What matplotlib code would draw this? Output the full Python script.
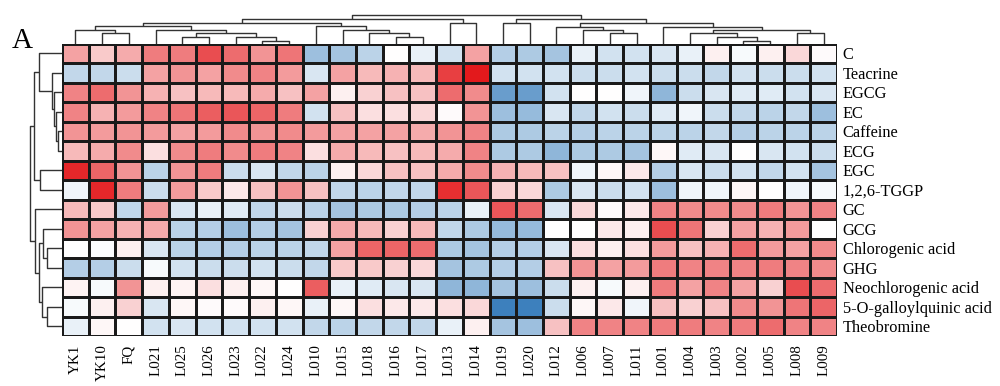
import numpy as np
import matplotlib
matplotlib.use('Agg')
import matplotlib.pyplot as plt
from matplotlib.colors import LinearSegmentedColormap

# Data
samples = ['YK1', 'YK10', 'FQ', 'L021', 'L025', 'L026', 'L023', 'L022', 'L024',
           'L010', 'L015', 'L018', 'L016', 'L017', 'L013', 'L014', 'L019', 'L020',
           'L012', 'L006', 'L007', 'L011', 'L001', 'L004', 'L003', 'L002', 'L005',
           'L008', 'L009']
compounds = ['C', 'Teacrine', 'EGCG', 'EC', 'Caffeine', 'ECG', 'EGC', '1,2,6-TGGP',
             'GC', 'GCG', 'Chlorogenic acid', 'GHG', 'Neochlorogenic acid',
             '5-O-galloylquinic acid', 'Theobromine']

row_C = [1.2, 0.7, 1.1, 1.7, 1.7, 2.3, 1.9, 1.4, 1.8, -1.3, -1.2, -0.9, 0.0, -0.3, -0.6, 1.2, -1.0, -1.1, -1.2, -0.3, -0.6, -0.6, -0.5, -0.3, 0.2, -0.1, 0.2, 0.5, 0.05]
row_teacrine = [-0.8, -0.8, -0.7, 1.2, 1.4, 1.2, 1.5, 1.6, 1.3, -0.5, 1.2, 0.9, 1.0, 0.9, 2.5, 3.0, -0.6, -0.6, -0.6, -0.7, -0.7, -0.6, -0.7, -0.7, -0.8, -0.6, -0.7, -0.7, -0.6]
row_egcg = [1.6, 1.9, 1.4, 1.0, 0.8, 0.9, 0.9, 1.1, 0.8, 1.2, 0.2, 0.6, 0.8, 0.8, 1.9, 1.5, -2.0, -2.0, -0.6, 0.0, 0.0, -0.2, -1.5, -0.7, -0.5, -0.4, -0.4, -0.6, -0.5]
row_ec = [1.6, 1.0, 1.3, 1.6, 1.8, 2.1, 2.2, 2.0, 1.7, -0.6, 0.8, 0.4, 0.4, 0.5, 0.05, 1.4, -1.3, -1.4, -0.5, -0.8, -0.6, -0.7, -0.4, -0.2, -0.7, -0.8, -0.9, -0.8, -1.3]
row_caffeine = [1.4, 1.3, 1.4, 1.3, 1.2, 1.3, 1.5, 1.4, 1.5, 1.3, 1.2, 1.2, 1.2, 1.1, 1.4, 1.6, -1.1, -1.1, -0.9, -1.0, -0.9, -0.9, -0.9, -0.9, -0.8, -1.0, -0.9, -0.9, -0.9]
row_ecg = [0.9, 1.1, 1.5, 0.4, 1.5, 1.7, 1.5, 1.7, 1.6, 0.4, 1.1, 0.9, 0.8, 0.9, 1.1, 1.6, -1.1, -1.1, -1.5, -1.1, -1.1, -1.2, 0.1, -0.4, -0.5, 0.0, -0.5, -0.6, -0.7]
row_egc = [2.8, 2.0, 1.4, -0.9, 1.4, 1.7, -0.7, -0.5, -0.8, -0.9, 0.2, 0.5, 0.8, 0.8, 1.1, 1.5, 1.0, 0.9, 0.8, -0.2, 0.1, 0.3, -1.0, -0.5, -0.7, -0.6, -0.8, -0.6, -1.2]
row_tggp = [-0.2, 2.8, 1.7, -0.7, 1.3, 0.7, 0.3, 0.8, 1.4, 0.8, -0.8, -0.9, -0.8, -0.8, 2.7, 2.2, 0.6, 0.5, -1.1, -0.5, -0.7, -0.6, -1.3, -0.2, -0.2, 0.1, 0.0, -0.2, -0.1]
row_gc = [0.9, 0.7, -0.8, 1.3, -0.5, -0.3, -0.4, -0.8, -0.7, -0.9, -1.2, -1.1, -1.1, -1.0, -0.9, -0.3, 2.2, 1.9, -0.5, 0.5, 0.05, 0.3, 1.6, 1.5, 1.5, 1.5, 1.7, 1.4, 1.6]
row_gcg = [1.4, 1.2, 1.0, 1.1, -0.9, -1.0, -1.3, -1.0, -1.2, 0.6, 1.1, 0.9, 0.6, 0.9, -0.8, -1.1, -1.4, -1.4, 0.0, 0.0, 0.3, 0.2, 2.3, 1.8, 0.6, 1.2, 1.0, 1.3, 0.0]
row_chlor = [0.0, -0.05, 0.2, -0.5, -0.9, -1.0, -1.0, -0.9, -0.9, -0.8, 1.2, 2.0, 2.0, 1.9, -1.1, -1.2, -1.0, -1.0, -0.5, 0.4, 0.2, 0.4, 1.3, 0.8, 1.0, 1.9, 1.3, 1.2, 1.5]
row_ghg = [-1.0, -1.0, -0.7, -0.1, -0.6, -0.7, -0.7, -0.6, -0.7, -0.8, 0.7, 0.7, 0.6, 0.5, -1.2, -1.1, -1.0, -1.0, 0.8, 1.4, 1.2, 1.3, 1.7, 1.6, 1.6, 1.6, 1.7, 1.6, 1.5]
row_neo = [0.15, -0.1, 1.4, 0.2, 0.15, 0.4, 0.2, 0.1, 0.0, 2.1, -0.3, -0.4, -0.5, -0.5, -1.5, -1.5, -1.2, -1.3, -0.7, 0.2, -0.1, 0.2, 1.7, 1.2, 1.6, 1.2, 0.6, 2.3, 1.9]
row_5o = [-0.1, 0.2, 0.6, -0.5, 0.1, 0.05, 0.05, 0.2, 0.1, -0.3, 0.1, 0.4, 0.3, 0.3, 0.4, 0.5, -2.6, -2.6, -0.7, 0.1, 0.3, -0.2, 0.8, 0.6, 0.8, 1.5, 1.4, 1.8, 2.0]
row_theo = [-0.3, 0.1, 0.0, -0.6, -0.5, -0.6, -0.6, -0.6, -0.6, -0.8, -0.9, -0.8, -0.8, -0.8, -0.3, 0.2, -1.2, -1.3, 0.8, 1.6, 1.6, 1.6, 1.7, 1.7, 1.6, 1.7, 1.9, 1.6, 1.6]

# Linkage-style merges (left node, right node, height); leaves are in display order
col_merges = [(7, 8, 2.8), (4, 5, 6.2), (6, 29, 6.2), (30, 31, 10), (3, 32, 13.5),
              (1, 2, 10), (0, 34, 13.5), (35, 33, 17.5), (12, 13, 6.2), (11, 37, 10),
              (10, 38, 13.5), (9, 39, 17), (36, 40, 20.5), (14, 15, 20.2), (41, 42, 24),
              (16, 17, 20.2), (20, 21, 10), (19, 45, 13.5), (18, 46, 16.8), (25, 26, 2.8),
              (24, 48, 6.8), (23, 49, 10), (27, 28, 10), (50, 51, 13.5), (22, 52, 16.8),
              (47, 53, 20.2), (44, 54, 24), (43, 55, 28)]
row_merges = [(4, 5, 4.3), (3, 15, 6.5), (2, 16, 8.5), (1, 17, 10.3), (0, 18, 23),
              (6, 7, 22), (19, 20, 27.7), (10, 11, 15.3), (9, 22, 18.7), (13, 14, 15.3),
              (12, 24, 20.3), (23, 25, 22.7), (8, 26, 27), (21, 27, 32)]

data = np.array([row_C, row_teacrine, row_egcg, row_ec, row_caffeine, row_ecg, row_egc,
                 row_tggp, row_gc, row_gcg, row_chlor, row_ghg, row_neo, row_5o, row_theo])


def draw_dendro(ax, merges, n_leaves, horizontal=True):
    pos = {i: i + 0.5 for i in range(n_leaves)}
    hgt = {i: 0.0 for i in range(n_leaves)}
    for k, (a, b, h) in enumerate(merges):
        xs = [pos[a], pos[a], pos[b], pos[b]]
        ys = [hgt[a], h, h, hgt[b]]
        if horizontal:
            ax.plot(xs, ys, color='#333333', lw=1.0, solid_capstyle='butt')
        else:
            ax.plot(ys, xs, color='#333333', lw=1.0, solid_capstyle='butt')
        node = n_leaves + k
        pos[node] = (pos[a] + pos[b]) / 2
        hgt[node] = h


W, H = 1000, 386
fig = plt.figure(figsize=(W / 100, H / 100), dpi=100)

hm_l, hm_r, hm_t, hm_b = 62, 837, 43.5, 336
ax = fig.add_axes([hm_l / W, 1 - hm_b / H, (hm_r - hm_l) / W, (hm_b - hm_t) / H])
cmap = LinearSegmentedColormap.from_list('bwr_custom', ['#1f6db3', '#ffffff', '#e3191c'])
nr, nc = data.shape
ax.pcolormesh(np.arange(nc + 1), np.arange(nr + 1), data, cmap=cmap, vmin=-3, vmax=3,
              edgecolors='#1a1a1a', linewidth=0.75)
ax.set_xlim(0, nc)
ax.set_ylim(nr, 0)
ax.set_xticks(np.arange(nc) + 0.5)
ax.set_xticklabels(samples, rotation=90, fontsize=10.8, family='Liberation Serif')
ax.set_yticks(np.arange(nr) + 0.5)
ax.set_yticklabels(compounds, fontsize=11.8, family='Liberation Serif')
ax.yaxis.tick_right()
ax.tick_params(length=0, pad=4)
ax.tick_params(axis='x', pad=6)
for s in ax.spines.values():
    s.set_visible(False)

# top dendrogram
ax_top = fig.add_axes([hm_l / W, 1 - hm_t / H, (hm_r - hm_l) / W, 30 / H])
draw_dendro(ax_top, col_merges, nc, horizontal=True)
ax_top.set_xlim(0, nc)
ax_top.set_ylim(0, 30)
ax_top.axis('off')

# left dendrogram
ax_left = fig.add_axes([28 / W, 1 - hm_b / H, (hm_l - 28) / W, (hm_b - hm_t) / H])
draw_dendro(ax_left, row_merges, nr, horizontal=False)
ax_left.set_xlim(hm_l - 28, 0)
ax_left.set_ylim(nr, 0)
ax_left.axis('off')

fig.text(12 / W, 1 - 48 / H, 'A', fontsize=21, family='Liberation Serif', ha='left', va='baseline')

fig.savefig('out.png', dpi=100)
